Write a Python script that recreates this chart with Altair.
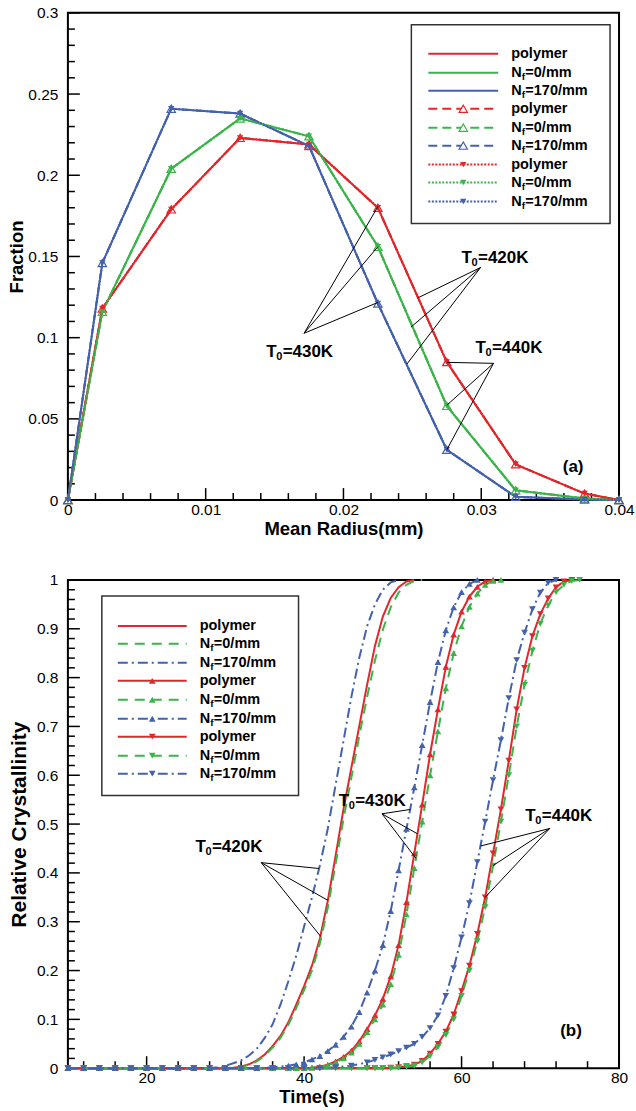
import altair as alt
import pandas as pd

FONT = "Liberation Sans"
RED, GREEN, BLUE = "#E3262B", "#3BB54A", "#4361AD"

# ---------------- panel (a): size distribution ----------------
radius = [0.0, 0.0025, 0.0075, 0.0125, 0.0175, 0.0225, 0.0275, 0.0325, 0.0375, 0.04]
frac_polymer = [0.0, 0.118, 0.179, 0.223, 0.219, 0.180, 0.085, 0.022, 0.004, 0.0]
frac_nf0 = [0.0, 0.116, 0.204, 0.235, 0.224, 0.156, 0.058, 0.006, 0.001, 0.0]
frac_nf170 = [0.0, 0.146, 0.241, 0.238, 0.218, 0.121, 0.031, 0.002, 0.0003, 0.0]
a_x_ticks = [0, 0.01, 0.02, 0.03, 0.04]
a_y_ticks = [0, 0.05, 0.1, 0.15, 0.2, 0.25, 0.3]
a_x_minor = [i * 0.002 for i in range(21) if i % 5]
a_y_minor = [i * 0.01 for i in range(31) if i % 5]

# ---------------- panel (b): relative crystallinity ----------------
t_420 = [10, 12, 14, 16, 18, 20, 22, 24, 26, 28] + list(range(29, 56))
x420_polymer = [0] * 10 + [0, 0, 0.001, 0.003, 0.008, 0.016, 0.028, 0.045, 0.066, 0.094, 0.13, 0.168, 0.21, 0.265,
                           0.342, 0.435, 0.53, 0.615, 0.7, 0.785, 0.865, 0.925, 0.963, 0.985, 0.997, 1, 1]
x420_nf0 = [0] * 10 + [0, 0, 0.001, 0.003, 0.007, 0.014, 0.026, 0.042, 0.062, 0.089, 0.123, 0.16, 0.2, 0.255,
                       0.328, 0.418, 0.51, 0.595, 0.68, 0.76, 0.835, 0.898, 0.944, 0.974, 0.99, 0.998, 1]
x420_nf170 = [0] * 10 + [0.002, 0.005, 0.01, 0.016, 0.026, 0.04, 0.062, 0.09, 0.13, 0.178, 0.23, 0.29, 0.35, 0.415,
                         0.49, 0.58, 0.67, 0.76, 0.84, 0.905, 0.95, 0.98, 0.995, 1, 1, 1, 1]

t_430 = [10, 12, 14, 16, 18, 20, 22, 24, 26, 28, 30, 32, 34, 36, 38] + list(range(39, 66))
x430_polymer = [0] * 15 + [0, 0.0005, 0.001, 0.003, 0.007, 0.014, 0.023, 0.036, 0.055, 0.08, 0.108, 0.142, 0.188,
                           0.252, 0.34, 0.44, 0.54, 0.643, 0.735, 0.822, 0.888, 0.935, 0.966, 0.986, 0.997, 1, 1]
x430_nf0 = [0] * 15 + [0, 0, 0.001, 0.002, 0.006, 0.012, 0.02, 0.032, 0.05, 0.074, 0.1, 0.13, 0.172, 0.232, 0.315,
                       0.41, 0.505, 0.6, 0.69, 0.778, 0.85, 0.905, 0.945, 0.972, 0.99, 0.998, 1]
x430_nf170 = [0] * 13 + [0.002, 0.005] + [0.008, 0.012, 0.018, 0.025, 0.035, 0.048, 0.064, 0.085, 0.115, 0.155,
                                          0.2, 0.252, 0.322, 0.405, 0.49, 0.575, 0.662, 0.75, 0.832, 0.897, 0.944,
                                          0.975, 0.992, 1, 1, 1, 1]

t_440 = [10, 12, 14, 16, 18, 20, 22, 24, 26, 28, 30, 32, 34, 36, 38, 40, 42, 44, 46, 48] + list(range(49, 76))
x440_polymer = [0] * 20 + [0, 0, 0.001, 0.002, 0.004, 0.007, 0.015, 0.03, 0.05, 0.075, 0.11, 0.158, 0.21, 0.275,
                           0.35, 0.44, 0.53, 0.63, 0.735, 0.82, 0.885, 0.93, 0.962, 0.985, 0.997, 1, 1]
x440_nf0 = [0] * 20 + [0, 0, 0, 0.001, 0.003, 0.005, 0.012, 0.025, 0.043, 0.068, 0.1, 0.148, 0.2, 0.26, 0.33,
                       0.415, 0.505, 0.6, 0.7, 0.785, 0.855, 0.91, 0.948, 0.975, 0.99, 0.998, 1]
x440_nf170 = [0] * 17 + [0.002, 0.005, 0.012] + [0.017, 0.022, 0.028, 0.035, 0.042, 0.05, 0.064, 0.082, 0.108,
                                                 0.148, 0.205, 0.268, 0.338, 0.422, 0.505, 0.59, 0.672, 0.758,
                                                 0.836, 0.892, 0.94, 0.974, 0.994, 1, 1, 1, 1]
b_x_ticks = [20, 40, 60, 80]
b_y_ticks = [0, 0.1, 0.2, 0.3, 0.4, 0.5, 0.6, 0.7, 0.8, 0.9, 1]
b_x_minor = [i for i in range(12, 80, 4) if i % 20]
b_y_minor = [i * 0.02 for i in range(51) if i % 5]

# annotation anchors (data coordinates): label position, leader apex, leader ends
a_notes = [("=420K", 0.02857, 0.1488), ("=430K", 0.01439, 0.0910), ("=440K", 0.02958, 0.0934)]
a_leaders = [((0.02995, 0.1432), [(0.0254, 0.1245), (0.0249, 0.1065), (0.0246, 0.0837)]),
             ((0.01714, 0.1027), [(0.0225, 0.1807), (0.0225, 0.156), (0.0225, 0.1217)]),
             ((0.03089, 0.0842), [(0.0275, 0.0848), (0.0275, 0.0584), (0.0275, 0.031)])]
b_notes = [("=420K", 26.2, 0.454), ("=430K", 44.4, 0.548), ("=440K", 68.1, 0.517)]
b_leaders = [((34.56, 0.421), [(41.9, 0.409), (43.0, 0.344), (42.1, 0.27)]),
             ((49.9, 0.521), [(53.5, 0.53), (54.4, 0.48), (54.2, 0.43)]),
             ((71.2, 0.491), [(62.4, 0.455), (64.0, 0.415), (63.0, 0.35)])]

W, HA, HB = 552, 488, 489


def trim(t, v):
    out_t, out_v = [], []
    for a, b in zip(t, v):
        out_t.append(a)
        out_v.append(b)
        if b >= 1:
            break
    return pd.DataFrame({"x": out_t, "y": out_v})


def make_panel(xs, ys, ax_x, ax_y, height, x_major, x_minor, y_major, y_minor,
               series, notes, leaders, tag, tag_pos, legend):
    X = lambda f: alt.X(f, type="quantitative", scale=xs, axis=ax_x)
    Y = lambda f: alt.Y(f, type="quantitative", scale=ys, axis=ax_y)
    layers = []
    # inward ticks
    for vals, ln in ((y_major, 12), (y_minor, 7)):
        layers.append(alt.Chart(pd.DataFrame({"v": vals})).mark_rule(color="black", strokeWidth=1.5)
                      .encode(y=Y("v"), x=alt.value(0), x2=alt.value(ln)))
    for vals, ln in ((x_major, 12), (x_minor, 7)):
        layers.append(alt.Chart(pd.DataFrame({"v": vals})).mark_rule(color="black", strokeWidth=1.5)
                      .encode(x=X("v"), y=alt.value(height), y2=alt.value(height - ln)))
    # data lines then markers
    for df, color, dash, marker in series:
        kw = {"strokeDash": dash} if dash else {}
        layers.append(alt.Chart(df).mark_line(color=color, strokeWidth=2, **kw)
                      .encode(x=X("x"), y=Y("y")))
    for df, color, dash, marker in series:
        if marker is None:
            continue
        shape, filled, size = marker
        if filled:
            m = alt.Chart(df).mark_point(shape=shape, filled=True, color=color, size=size, opacity=1)
        else:
            m = alt.Chart(df).mark_point(shape=shape, filled=False, color=color, size=size, opacity=1,
                                         strokeWidth=1.2)
        layers.append(m.encode(x=X("x"), y=Y("y")))
    # leaders
    rows = []
    for (ax, ay), ends in leaders:
        for ex, ey in ends:
            rows.append({"x": ax, "y": ay, "x2": ex, "y2": ey})
    layers.append(alt.Chart(pd.DataFrame(rows)).mark_rule(color="black", strokeWidth=1)
                  .encode(x=X("x"), y=Y("y"), x2="x2:Q", y2="y2:Q"))
    ndf = pd.DataFrame([{"x": x, "y": y, "rest": r} for r, x, y in notes])
    base_t = dict(font=FONT, fontWeight="bold", align="left", baseline="middle", color="black")
    layers.append(alt.Chart(ndf).mark_text(fontSize=17, **base_t).encode(x=X("x"), y=Y("y"), text=alt.value("T")))
    layers.append(alt.Chart(ndf).mark_text(fontSize=11, dx=10, dy=5, **base_t)
                  .encode(x=X("x"), y=Y("y"), text=alt.value("0")))
    layers.append(alt.Chart(ndf).mark_text(fontSize=17, dx=16.5, **base_t)
                  .encode(x=X("x"), y=Y("y"), text="rest:N"))
    layers.append(alt.Chart(pd.DataFrame([{"x": tag_pos[0], "y": tag_pos[1]}]))
                  .mark_text(fontSize=17, font=FONT, fontWeight="bold", baseline="middle", align="center")
                  .encode(x=X("x"), y=Y("y"), text=alt.value(tag)))
    layers += legend
    return alt.layer(*layers).properties(width=W, height=height)


def legend_layers(box, rows, x0, x1, xtext):
    PX = lambda f: alt.X(f, type="quantitative", scale=None, axis=None)
    PY = lambda f: alt.Y(f, type="quantitative", scale=None, axis=None)
    out = [alt.Chart(pd.DataFrame([box])).mark_rect(fill="white", stroke="#333333", strokeWidth=1.5)
           .encode(x=PX("x"), x2="x2:Q", y=PY("y"), y2="y2:Q")]
    main, sub = [], []
    for y, label, color, dash, marker in rows:
        kw = {"strokeDash": dash} if dash else {}
        out.append(alt.Chart(pd.DataFrame([{"x": x0, "x2": x1, "y": y}]))
                   .mark_rule(color=color, strokeWidth=2, **kw).encode(x=PX("x"), x2="x2:Q", y=PY("y")))
        if marker is not None:
            shape, filled, size = marker
            out.append(alt.Chart(pd.DataFrame([{"x": (x0 + x1) / 2, "y": y}]))
                       .mark_point(shape=shape, filled=filled, color=color, size=size, opacity=1,
                                   strokeWidth=1.2, fill=color if filled else "white")
                       .encode(x=PX("x"), y=PY("y")))
        if label == "polymer":
            main.append({"x": xtext, "y": y, "t": "polymer"})
        else:
            main.append({"x": xtext, "y": y, "t": "N"})
            sub.append({"x": xtext + 10.6, "y": y + 4, "t": "f"})
            main.append({"x": xtext + 14.2, "y": y, "t": label})
    out.append(alt.Chart(pd.DataFrame(main)).mark_text(font=FONT, fontWeight="bold", fontSize=14.5, align="left",
                                                        baseline="middle", color="black")
               .encode(x=PX("x"), y=PY("y"), text="t:N"))
    out.append(alt.Chart(pd.DataFrame(sub)).mark_text(font=FONT, fontWeight="bold", fontSize=10, align="left",
                                                       baseline="middle", color="black")
               .encode(x=PX("x"), y=PY("y"), text="t:N"))
    return out


axis_common = dict(ticks=False, tickSize=0, domain=False, grid=False, labelFlush=False, labelOverlap=False,
                   labelExpr="format(datum.value, '~g')")

# ---------- panel (a) ----------
xs_a = alt.Scale(domain=[0, 0.04], nice=False, zero=False)
ys_a = alt.Scale(domain=[0, 0.3], nice=False, zero=False)
ax_xa = alt.Axis(values=a_x_ticks, title="Mean Radius(mm)", labelPadding=2, titlePadding=2,
                 titleFontSize=18.5, **axis_common)
ax_ya = alt.Axis(values=a_y_ticks, title="Fraction", labelPadding=10, titlePadding=1,
                 titleFontSize=18.5, **axis_common)

sol, dsh, dot = None, [9, 5], [2, 1.5]
up_open, dn_fill = ("triangle-up", False, 70), ("triangle-down", True, 40)
series_a = []
for dash, marker in ((sol, None), (dsh, up_open), (dot, dn_fill)):
    for vals, color in ((frac_polymer, RED), (frac_nf0, GREEN), (frac_nf170, BLUE)):
        series_a.append((pd.DataFrame({"x": radius, "y": vals}), color, dash, marker))

rows_a = []
ya_rows = [41, 60, 78, 96, 115, 133, 152, 170, 189]
k = 0
for dash, marker in ((sol, None), (dsh, up_open), (dot, dn_fill)):
    for label, color in (("polymer", RED), ("=0/mm", GREEN), ("=170/mm", BLUE)):
        rows_a.append((ya_rows[k], label, color, dash, marker))
        k += 1
leg_a = legend_layers({"x": 344, "x2": 543, "y": 12, "y2": 211}, rows_a, 361, 431, 444)

top = make_panel(xs_a, ys_a, ax_xa, ax_ya, HA, a_x_ticks, a_x_minor, a_y_ticks, a_y_minor,
                 series_a, a_notes, a_leaders, "(a)", (0.03667, 0.0203), leg_a)

# ---------- panel (b) ----------
xs_b = alt.Scale(domain=[10, 80], nice=False, zero=False)
ys_b = alt.Scale(domain=[0, 1], nice=False, zero=False)
ax_xb = alt.Axis(values=b_x_ticks, title="Time(s)", labelPadding=2, titlePadding=2, titleFontSize=18.5,
                 titleX=244, titleAlign="center", **axis_common)
ax_yb = alt.Axis(values=b_y_ticks, title="Relative Crystallinity", labelPadding=10, titlePadding=7,
                 titleFontSize=21, **axis_common)

b_dsh, b_dd = [10, 7], [10, 4, 2, 4]
up_f, dn_f = ("triangle-up", True, 45), ("triangle-down", True, 45)
series_b = []
for t, vals_list, marker in ((t_420, (x420_polymer, x420_nf0, x420_nf170), None),
                             (t_430, (x430_polymer, x430_nf0, x430_nf170), up_f),
                             (t_440, (x440_polymer, x440_nf0, x440_nf170), dn_f)):
    for vals, color, dash in zip(vals_list, (RED, GREEN, BLUE), (None, b_dsh, b_dd)):
        series_b.append((trim(t, vals), color, dash, marker))

rows_b = []
yb_rows = [46, 64, 83, 101, 120, 139, 157, 176, 194]
k = 0
for marker in (None, up_f, dn_f):
    for label, color, dash in (("polymer", RED, None), ("=0/mm", GREEN, b_dsh), ("=170/mm", BLUE, b_dd)):
        rows_b.append((yb_rows[k], label, color, dash, marker))
        k += 1
leg_b = legend_layers({"x": 34, "x2": 231, "y": 16, "y2": 216}, rows_b, 50, 119, 132)

bottom = make_panel(xs_b, ys_b, ax_xb, ax_yb, HB, b_x_ticks, b_x_minor, b_y_ticks, b_y_minor,
                    series_b, b_notes, b_leaders, "(b)", (73.9, 0.076), leg_b)

chart = (alt.vconcat(top, bottom, spacing=33)
         .properties(padding={"left": 6, "top": 4, "right": 0, "bottom": 0}, background="white")
         .configure_view(stroke="black", strokeWidth=2)
         .configure_axis(labelFont=FONT, titleFont=FONT, labelFontSize=15.5,
                         labelColor="black", titleColor="black", titleFontWeight="bold"))

chart.save("out.html", embed_options={"renderer": "svg", "actions": False})
